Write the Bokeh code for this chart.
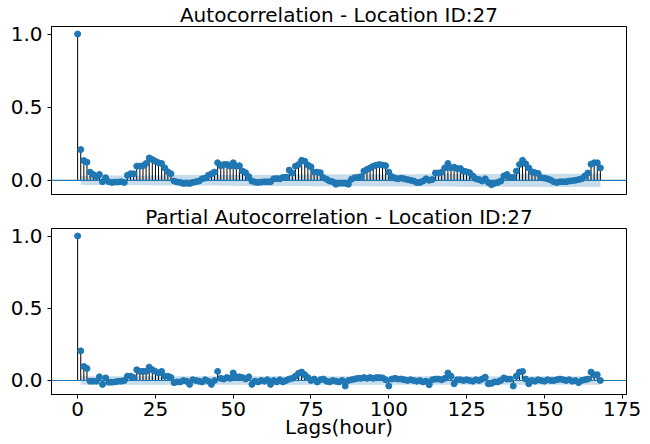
import numpy as np
from bokeh.plotting import figure
from bokeh.layouts import column
from bokeh.models import Range1d, Span, FixedTicker, NumeralTickFormatter, ColumnDataSource
from bokeh.embed import file_html
from bokeh.resources import INLINE

# ---------------- data ----------------
lags = list(range(0, 169))

acf_values = [
    1.0, 0.21, 0.135, 0.124, 0.056, 0.04, 0.025, 0.04, -0.01, 0.018,
    -0.01, -0.015, -0.012, -0.012, -0.01, -0.015, 0.034, 0.045, 0.045, 0.097,
    0.097, 0.1, 0.115, 0.153, 0.142, 0.13, 0.12, 0.115, 0.085, 0.058,
    0.045, -0.005, -0.012, -0.015, -0.022, -0.02, -0.022, -0.015, -0.01, -0.005,
    0.01, 0.015, 0.034, 0.045, 0.056, 0.12, 0.1, 0.108, 0.108, 0.097,
    0.12, 0.097, 0.1, 0.063, 0.052, 0.025, -0.005, -0.012, -0.015, -0.012,
    -0.01, -0.01, -0.01, 0.01, 0.012, 0.01, 0.02, 0.022, 0.07, 0.05,
    0.097, 0.108, 0.137, 0.13, 0.104, 0.092, 0.056, 0.056, 0.052, 0.018,
    0.007, -0.005, -0.01, -0.027, -0.02, -0.02, -0.02, -0.027, 0.007, 0.018,
    0.02, 0.025, 0.063, 0.074, 0.085, 0.097, 0.104, 0.108, 0.104, 0.1,
    0.056, 0.025, 0.015, 0.01, 0.015, 0.01, 0.005, 0.0, -0.005, -0.015,
    -0.015, -0.005, 0.01, 0.0, 0.005, 0.05, 0.05, 0.055, 0.085, 0.115,
    0.085, 0.09, 0.08, 0.08, 0.063, 0.058, 0.052, 0.03, 0.01, 0.005,
    -0.005, 0.01, -0.015, -0.03, -0.02, -0.015, -0.005, 0.03, 0.04, 0.02,
    0.02, 0.063, 0.108, 0.137, 0.113, 0.085, 0.058, 0.052, 0.047, 0.018,
    0.015, 0.01, 0.002, -0.01, -0.015, -0.01, -0.01, -0.01, -0.005, -0.003,
    0.0, 0.005, 0.01, 0.03, 0.05, 0.11, 0.12, 0.12, 0.085,
]

pacf_values = [
    1.0, 0.205, 0.097, 0.083, -0.005, -0.005, -0.005, 0.025, -0.027, 0.018,
    -0.012, -0.012, -0.01, -0.005, -0.005, 0.0, 0.03, 0.03, 0.02, 0.074,
    0.063, 0.063, 0.063, 0.092, 0.074, 0.063, 0.052, 0.063, 0.03, 0.03,
    0.02, -0.015, -0.01, -0.01, 0.0, -0.005, -0.027, 0.005, 0.0, -0.005,
    -0.01, 0.005, -0.005, -0.027, 0.0, 0.063, 0.015, 0.01, 0.02, 0.015,
    0.052, 0.025, 0.025, 0.02, 0.01, 0.025, -0.027, -0.005, -0.01, 0.0,
    -0.005, 0.005, -0.027, 0.0, -0.01, 0.005, -0.01, 0.0, 0.01, 0.015,
    0.03, 0.05, 0.058, 0.04, 0.02, 0.0, 0.01, -0.01, 0.005, 0.01,
    -0.005, -0.01, 0.0, -0.005, -0.01, 0.0, -0.038, 0.0, 0.005, 0.01,
    0.015, 0.015, 0.02, 0.015, 0.02, 0.015, 0.02, 0.02, 0.018, 0.005,
    -0.038, 0.01, 0.015, 0.01, 0.01, 0.005, 0.0, 0.005, 0.0, -0.005,
    0.0, -0.01, -0.005, -0.03, 0.005, 0.01, 0.01, 0.005, 0.015, 0.052,
    0.03, -0.023, 0.005, 0.005, 0.0, 0.005, 0.0, -0.005, 0.005, 0.0,
    0.01, 0.023, -0.023, -0.02, -0.01, -0.01, 0.0, 0.018, 0.01, 0.01,
    -0.038, 0.03, 0.058, 0.063, 0.01, -0.023, 0.0, -0.005, 0.005, 0.0,
    -0.005, 0.005, 0.0, 0.0, 0.005, 0.01, 0.005, 0.0, 0.005, -0.005,
    0.0, -0.015, 0.0, 0.005, 0.01, 0.058, 0.04, 0.04, 0.0,
]

x_ticks = [0, 25, 50, 75, 100, 125, 150, 175]
y_ticks = [0.0, 0.5, 1.0]
titles = ["Autocorrelation - Location ID:27", "Partial Autocorrelation - Location ID:27"]
x_label = "Lags(hour)"
n_obs = 4344  # number of hourly observations (used for the 95% band)

# ---------------- confidence bands (as statsmodels computes them) ----------------
acf_arr = np.array(acf_values)
z = 1.96
var_acf = np.ones(len(acf_arr)) / n_obs
var_acf[0] = 0
var_acf[2:] *= 1 + 2 * np.cumsum(acf_arr[1:-1] ** 2)
acf_half = z * np.sqrt(var_acf)
pacf_half = np.full(len(pacf_values), z / np.sqrt(n_obs))

C0 = "#1f77b4"
FONT = "DejaVu Sans"


def make_panel(values, half, title, height, top, bottom, show_x):
    p = figure(width=650, height=height, output_backend="svg", toolbar_location=None,
               x_range=Range1d(-8.4, 176.4), y_range=Range1d(-0.097, 1.052),
               min_border_left=51, min_border_right=24,
               min_border_top=top, min_border_bottom=bottom)
    p.title.text = title
    p.title.align = "center"
    p.title.text_font = FONT
    p.title.text_font_size = "20px"
    p.title.text_font_style = "normal"
    p.title.text_color = "black"
    p.title.standoff = 0
    p.title.offset = 0
    p.grid.visible = False
    p.outline_line_color = "black"
    p.outline_line_width = 1
    p.background_fill_color = "white"
    p.border_fill_color = "white"

    src = ColumnDataSource(dict(x=lags, y=values, z=[0] * len(lags)))
    band = ColumnDataSource(dict(x=lags[1:], lo=list(-half[1:]), hi=list(half[1:])))
    p.varea(x="x", y1="lo", y2="hi", source=band, fill_color=C0, fill_alpha=0.25)
    p.add_layout(Span(location=0, dimension="width", line_color=C0, line_width=1.2))
    p.segment(x0="x", y0="z", x1="x", y1="y", source=src, line_color="black", line_width=1)
    p.scatter(x="x", y="y", source=src, size=6, fill_color=C0, line_color=C0)

    p.yaxis.ticker = FixedTicker(ticks=y_ticks)
    p.yaxis.formatter = NumeralTickFormatter(format="0.0")
    p.xaxis.ticker = FixedTicker(ticks=x_ticks)
    for ax in (p.xaxis[0], p.yaxis[0]):
        ax.major_label_text_font = FONT
        ax.major_label_text_font_size = "20px"
        ax.major_label_text_color = "black"
        ax.major_tick_out = 4
        ax.major_tick_in = 0
        ax.minor_tick_out = 0
        ax.minor_tick_in = 0
        ax.major_label_standoff = 5
        ax.axis_line_color = "black"
        ax.major_tick_line_color = "black"
    p.xaxis.major_label_standoff = 3
    if show_x:
        p.xaxis.axis_label = x_label
        p.xaxis.axis_label_text_font = FONT
        p.xaxis.axis_label_text_font_size = "20px"
        p.xaxis.axis_label_text_font_style = "normal"
        p.xaxis.axis_label_text_color = "black"
        p.xaxis.axis_label_standoff = -4
    else:
        p.xaxis.visible = False
    return p


p1 = make_panel(acf_values, acf_half, titles[0], 202, 25, 8, False)
p2 = make_panel(pacf_values, pacf_half, titles[1], 242, 25, 50, True)

layout = column(p1, p2, spacing=0)
open("out.html", "w").write(file_html(layout, INLINE))
